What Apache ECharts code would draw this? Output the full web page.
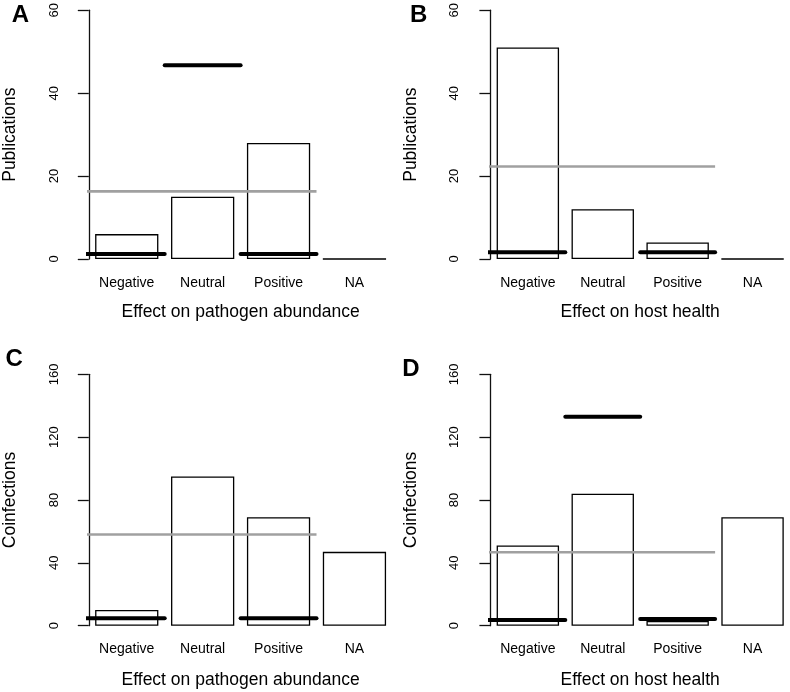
<!DOCTYPE html>
<html>
<head>
<meta charset="utf-8">
<script src="https://cdn.jsdelivr.net/npm/echarts@6/dist/echarts.min.js"></script>
<style>
html,body{margin:0;padding:0;background:#fff;}
#chart{width:790px;height:692px;}
</style>
</head>
<body>
<div id="chart"></div>
<script>
// ---------- data ----------
const categories = ['Negative', 'Neutral', 'Positive', 'NA'];

const pubPathogen = [6, 15, 28, 0];
const pubHost = [51, 12, 4, 0];
const coinfPathogen = [10, 95, 69, 47];
const coinfHost = [51, 84, 3, 69];

// thick black reference segments per category (null = none)
const pubPathogenBlack = [1.2, 46.7, 1.2, null];
const pubHostBlack = [1.6, null, 1.6, null];
const coinfPathogenBlack = [4.7, null, 4.7, null];
const coinfHostBlack = [3.6, 133, 4.2, null];

// grey reference line spanning the first three categories
const pubPathogenGray = 16.3;
const pubHostGray = 22.3;
const coinfPathogenGray = 58;
const coinfHostGray = 46.7;
const grayCategorySpan = 3;

const yTicksPub = { max: 60, interval: 20 };
const yTicksCoinf = { max: 160, interval: 40 };

const panelLetters = ['A', 'B', 'C', 'D'];
const yTitles = ['Publications', 'Publications', 'Coinfections', 'Coinfections'];
const xTitles = ['Effect on pathogen abundance', 'Effect on host health',
                 'Effect on pathogen abundance', 'Effect on host health'];

// ---------- layout (styles / positions) ----------
const FONT = 'Liberation Sans, Arial, Helvetica, sans-serif';
const panels = [
  { values: pubPathogen, black: pubPathogenBlack, gray: pubPathogenGray, ticks: yTicksPub,
    grid: { left: 88, top: 8, width: 304.4, height: 251 }, offset: 5.3, xNameGap: 52.7, letter: [20.5, 15] },
  { values: pubHost, black: pubHostBlack, gray: pubHostGray, ticks: yTicksPub,
    grid: { left: 490.4, top: 8, width: 303.6, height: 251 }, offset: 6.0, xNameGap: 52.7, letter: [418.7, 15] },
  { values: coinfPathogen, black: coinfPathogenBlack, gray: coinfPathogenGray, ticks: yTicksCoinf,
    grid: { left: 88, top: 374.3, width: 304.4, height: 251.4 }, offset: 5.3, xNameGap: 54.3, letter: [14.2, 359] },
  { values: coinfHost, black: coinfHostBlack, gray: coinfHostGray, ticks: yTicksCoinf,
    grid: { left: 490.4, top: 374.3, width: 303.6, height: 251.4 }, offset: 6.0, xNameGap: 54.3, letter: [411, 369] }
];

const grids = [], xAxes = [], yAxes = [], series = [], graphics = [];

panels.forEach((p, i) => {
  grids.push(Object.assign({ containLabel: false }, p.grid));
  const slot = p.grid.width / categories.length;
  const pad = p.offset / slot; // plot-region margin in category units

  // category axis (bars + labels)
  xAxes.push({
    type: 'category', gridIndex: i, data: categories, boundaryGap: true,
    axisLine: { show: false }, axisTick: { show: false }, splitLine: { show: false },
    axisLabel: { color: '#000', fontSize: 14, fontFamily: FONT, margin: 23.7,
                 verticalAlign: 'middle', interval: 0 },
    name: xTitles[i], nameLocation: 'middle', nameGap: p.xNameGap,
    nameTextStyle: { color: '#000', fontSize: 17.5, fontFamily: FONT, verticalAlign: 'middle' }
  });
  // hidden value axis in category units for reference segments
  xAxes.push({ type: 'value', gridIndex: i, min: 0, max: categories.length, show: false });

  yAxes.push({
    type: 'value', gridIndex: i, min: 0, max: p.ticks.max, interval: p.ticks.interval,
    offset: p.offset,
    axisLine: { show: true, lineStyle: { color: '#111', width: 1.3 } },
    axisTick: { show: true, length: 11, lineStyle: { color: '#111', width: 1.3 } },
    splitLine: { show: false },
    axisLabel: { color: '#000', fontSize: 13, fontFamily: FONT, rotate: 90, margin: 23 },
    name: yTitles[i], nameLocation: 'middle', nameGap: 73.5,
    nameTextStyle: { color: '#000', fontSize: 17.5, fontFamily: FONT, verticalAlign: 'middle' }
  });

  series.push({
    type: 'bar', xAxisIndex: 2 * i, yAxisIndex: i, data: p.values,
    barWidth: '83.33%', silent: true, z: 2,
    itemStyle: { color: '#fff', borderColor: '#000', borderWidth: 1.3 }
  });

  series.push({
    type: 'line', xAxisIndex: 2 * i + 1, yAxisIndex: i, clip: false, silent: true,
    symbol: 'none', z: 3,
    data: [[-pad, p.gray], [grayCategorySpan, p.gray]],
    lineStyle: { color: '#a0a0a0', width: 2.6, cap: 'butt' }
  });

  p.black.forEach((v, c) => {
    if (v === null) return;
    const x0 = c === 0 ? -pad : c;
    series.push({
      type: 'line', xAxisIndex: 2 * i + 1, yAxisIndex: i, clip: false, silent: true,
      symbol: 'none', z: 4,
      data: [[x0, v], [c + 1, v]],
      lineStyle: { color: '#000', width: 4, cap: 'round' }
    });
  });

  graphics.push({
    type: 'text', x: p.letter[0], y: p.letter[1], z: 10,
    style: { text: panelLetters[i], fill: '#000', font: 'bold 24px ' + FONT,
             align: 'center', verticalAlign: 'middle', textAlign: 'center', textVerticalAlign: 'middle' }
  });
});

const chart = echarts.init(document.getElementById('chart'), null, { renderer: 'canvas' });
chart.setOption({
  animation: false,
  backgroundColor: '#fff',
  textStyle: { fontFamily: FONT },
  grid: grids,
  xAxis: xAxes,
  yAxis: yAxes,
  series: series,
  graphic: graphics
});
</script>
</body>
</html>
